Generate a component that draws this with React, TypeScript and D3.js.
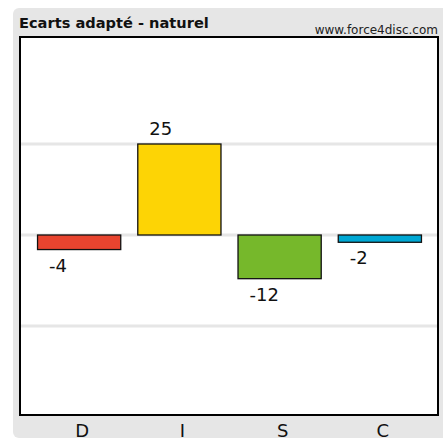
import React from "react";
import * as d3 from "d3";

// DISC adapted-vs-natural differences
const categories = ["D", "I", "S", "C"];
const values = [-4, 25, -12, -2];
const colors = ["#e8442f", "#fdd405", "#76b82b", "#00a8d4"];
const gridTicks = [-25, 0, 25];
const title = "Ecarts adapté - naturel";
const site = "www.force4disc.com";

const W = 443;
const H = 440;
const plot = { left: 20, top: 37, right: 438, bottom: 415 };
const font = "'DejaVu Sans', sans-serif";

export default function App() {
  const x = d3
    .scaleBand<string>()
    .domain(categories)
    .range([plot.left, plot.right])
    .paddingInner(0.17)
    .paddingOuter(0.17);
  const y = d3.scaleLinear().domain([-50, 50]).range([417, 53]);
  const bw = x.bandwidth();

  return (
    <svg
      width={W}
      height={H}
      style={{ position: "absolute", left: 0, top: 0 }}
      fontFamily={font}
    >
      <rect x={13} y={8} width={W} height={430} rx={6} fill="#e6e6e6" />
      <text x={19} y={28} fontSize={14.6} fontWeight="bold" fill="#111">
        {title}
      </text>
      <text x={plot.right} y={34} fontSize={12} textAnchor="end" fill="#222">
        {site}
      </text>
      <rect
        x={plot.left}
        y={plot.top}
        width={plot.right - plot.left}
        height={plot.bottom - plot.top}
        fill="#fff"
      />
      {gridTicks.map((t) => (
        <line
          key={t}
          x1={plot.left}
          x2={plot.right}
          y1={y(t)}
          y2={y(t)}
          stroke="#e6e6e6"
          strokeWidth={3}
        />
      ))}
      {categories.map((c, i) => {
        const v = values[i];
        const x0 = x(c)!;
        const top = y(Math.max(0, v));
        const bottom = y(Math.min(0, v));
        return (
          <g key={c}>
            <rect
              x={x0 + 0.5}
              y={top}
              width={bw}
              height={bottom - top}
              fill={colors[i]}
              stroke="#111"
              strokeWidth={1.3}
            />
            <text
              x={x0 + 12}
              y={v >= 0 ? top - 9 : bottom + 22}
              fontSize={18}
              fill="#111"
            >
              {v}
            </text>
            <text
              x={x0 + bw / 2 + 3.5}
              y={437}
              fontSize={18}
              textAnchor="middle"
              fill="#111"
            >
              {c}
            </text>
          </g>
        );
      })}
      <rect
        x={plot.left}
        y={plot.top}
        width={plot.right - plot.left}
        height={plot.bottom - plot.top}
        fill="none"
        stroke="#000"
        strokeWidth={2}
      />
    </svg>
  );
}
